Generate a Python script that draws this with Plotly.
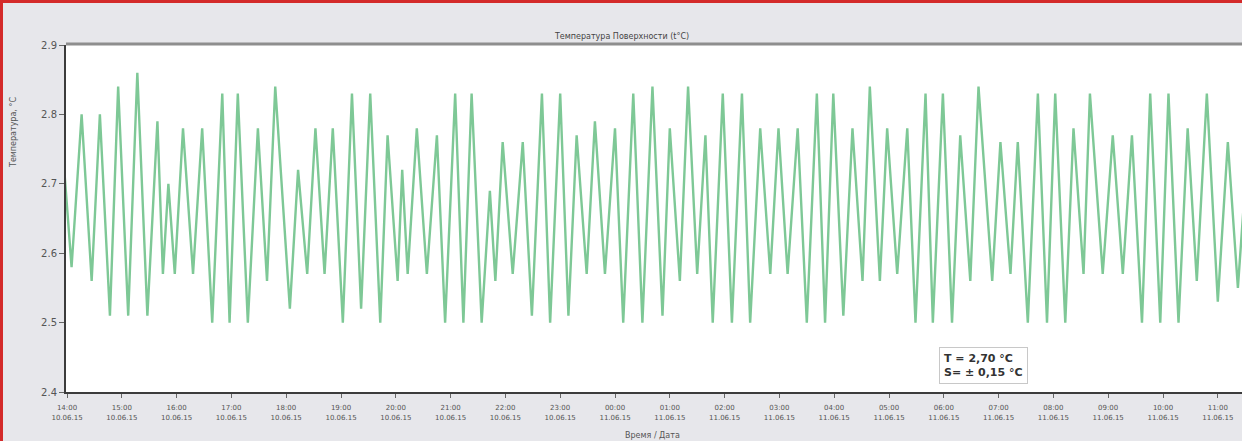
import plotly.graph_objects as go

# time offset in minutes from 10.06.15 14:00
minutes = [-3, 5, 16, 27, 36, 47, 56, 67, 77, 88,
           99, 105, 111, 118, 127, 138, 148, 159, 170, 178,
           187, 198, 209, 219, 228, 244, 253, 263, 272, 282,
           291, 302, 312, 322, 332, 343, 351, 362, 367, 373,
           383, 394, 405, 414, 425, 434, 443, 454, 463, 469,
           477, 488, 499, 509, 520, 529, 540, 549, 558, 569,
           578, 589, 600, 609, 620, 630, 641, 652, 660, 671,
           680, 690, 699, 707, 718, 728, 739, 748, 759, 770,
           779, 789, 800, 810, 821, 830, 839, 850, 860, 871,
           879, 890, 898, 909, 920, 929, 940, 948, 959, 969,
           978, 989, 998, 1013, 1022, 1033, 1041, 1052, 1063, 1073,
           1082, 1093, 1102, 1113, 1120, 1134, 1145, 1156, 1166, 1177,
           1186, 1197, 1206, 1217, 1227, 1237, 1248, 1260, 1271, 1282,
           1290]

temperature = [2.72, 2.58, 2.80, 2.56, 2.80, 2.51, 2.84, 2.51, 2.86, 2.51,
               2.79, 2.57, 2.70, 2.57, 2.78, 2.57, 2.78, 2.50, 2.83, 2.50,
               2.83, 2.50, 2.78, 2.56, 2.84, 2.52, 2.72, 2.57, 2.78, 2.57,
               2.78, 2.50, 2.83, 2.52, 2.83, 2.50, 2.77, 2.56, 2.72, 2.57,
               2.78, 2.57, 2.77, 2.50, 2.83, 2.50, 2.83, 2.50, 2.69, 2.56,
               2.76, 2.57, 2.76, 2.51, 2.83, 2.50, 2.83, 2.51, 2.77, 2.57,
               2.79, 2.57, 2.78, 2.50, 2.83, 2.50, 2.84, 2.51, 2.78, 2.56,
               2.84, 2.57, 2.77, 2.50, 2.83, 2.50, 2.83, 2.50, 2.78, 2.57,
               2.78, 2.57, 2.78, 2.50, 2.83, 2.50, 2.83, 2.51, 2.78, 2.56,
               2.84, 2.56, 2.78, 2.57, 2.78, 2.50, 2.83, 2.50, 2.83, 2.50,
               2.77, 2.56, 2.84, 2.56, 2.76, 2.57, 2.76, 2.50, 2.83, 2.50,
               2.83, 2.50, 2.78, 2.57, 2.83, 2.57, 2.77, 2.57, 2.77, 2.50,
               2.83, 2.50, 2.83, 2.50, 2.78, 2.56, 2.83, 2.53, 2.76, 2.55,
               2.70]

tick_minutes = [0, 60, 120, 180, 240, 300, 360, 420, 480, 540, 600,
                660, 720, 780, 840, 900, 960, 1020, 1080, 1140, 1200, 1260]
tick_times = ["14:00", "15:00", "16:00", "17:00", "18:00", "19:00", "20:00",
              "21:00", "22:00", "23:00", "00:00", "01:00", "02:00", "03:00",
              "04:00", "05:00", "06:00", "07:00", "08:00", "09:00", "10:00", "11:00"]
tick_dates = ["10.06.15"] * 10 + ["11.06.15"] * 12

y_ticks = [2.4, 2.5, 2.6, 2.7, 2.8, 2.9]

n = min(len(minutes), len(temperature))
minutes = minutes[:n]
temperature = temperature[:n]

fig = go.Figure()
fig.add_trace(go.Scatter(
    x=minutes, y=temperature, mode="lines",
    line=dict(color="#7ec896", width=2.4),
    showlegend=False,
))

W, H = 1242, 441
L, R, T, B = 66, 0, 45, 49
pw, ph = W - L - R, H - T - B


def px(p):
    return (p - L) / pw


def py(p):
    return (H - B - p) / ph


fig.update_layout(
    width=W, height=H,
    margin=dict(l=L, r=R, t=T, b=B),
    paper_bgcolor="#e7e7eb",
    plot_bgcolor="#ffffff",
    font=dict(family="DejaVu Sans", color="#444444"),
    xaxis=dict(
        range=[-1.1, 1286.5],
        tickmode="array",
        tickvals=tick_minutes,
        ticktext=[f"{a}<br>{b}" for a, b in zip(tick_times, tick_dates)],
        tickfont=dict(size=7, color="#555555"),
        ticks="outside", ticklen=4, tickcolor="#666666",
        ticklabelstandoff=4,
        showgrid=False, zeroline=False,
        showline=True, linecolor="#3c3c3c", linewidth=2,
    ),
    yaxis=dict(
        range=[2.4, 2.9],
        tickmode="array",
        tickvals=y_ticks,
        ticktext=[f"{v:.1f}" for v in y_ticks],
        tickfont=dict(size=10, color="#555555"),
        ticks="outside", ticklen=5, tickcolor="#666666",
        showgrid=False, zeroline=False,
        showline=True, linecolor="#3c3c3c", linewidth=2,
    ),
    title=dict(text="Температура Поверхности (t°C)", x=px(655), xanchor="center",
               y=1 - 36 / H, yanchor="middle", font=dict(size=8, color="#444444")),
    shapes=[
        dict(type="line", xref="paper", yref="paper", x0=0, x1=1, y0=1.003, y1=1.003,
             line=dict(color="#8e8e8e", width=3)),
        dict(type="line", xref="paper", yref="paper", x0=px(1.5), x1=px(1.5),
             y0=py(0), y1=py(H), line=dict(color="#d42a2a", width=3)),
        dict(type="line", xref="paper", yref="paper", x0=px(0), x1=px(W),
             y0=py(1.5), y1=py(1.5), line=dict(color="#d42a2a", width=3)),
    ],
    annotations=[
        dict(xref="paper", yref="paper", x=px(983), y=py(365),
             xanchor="center", yanchor="middle", showarrow=False, align="left",
             text="<b>T = 2,70 °C</b><br><b>S= ± 0,15 °C</b>",
             font=dict(size=11, color="#333333"),
             bgcolor="#ffffff", bordercolor="#c8c8c8", borderwidth=1, borderpad=4),
        dict(xref="paper", yref="paper", x=px(13), y=py(133),
             xanchor="center", yanchor="middle", showarrow=False, textangle=-90,
             text="Температура, °C", font=dict(size=8, color="#555555")),
        dict(xref="paper", yref="paper", x=px(652), y=py(435),
             xanchor="center", yanchor="middle", showarrow=False,
             text="Время / Дата", font=dict(size=8, color="#555555")),
    ],
)

fig.write_html("out.html",
               config={"displayModeBar": False},
               post_script="document.body.style.margin='0';document.body.style.overflow='hidden';")
